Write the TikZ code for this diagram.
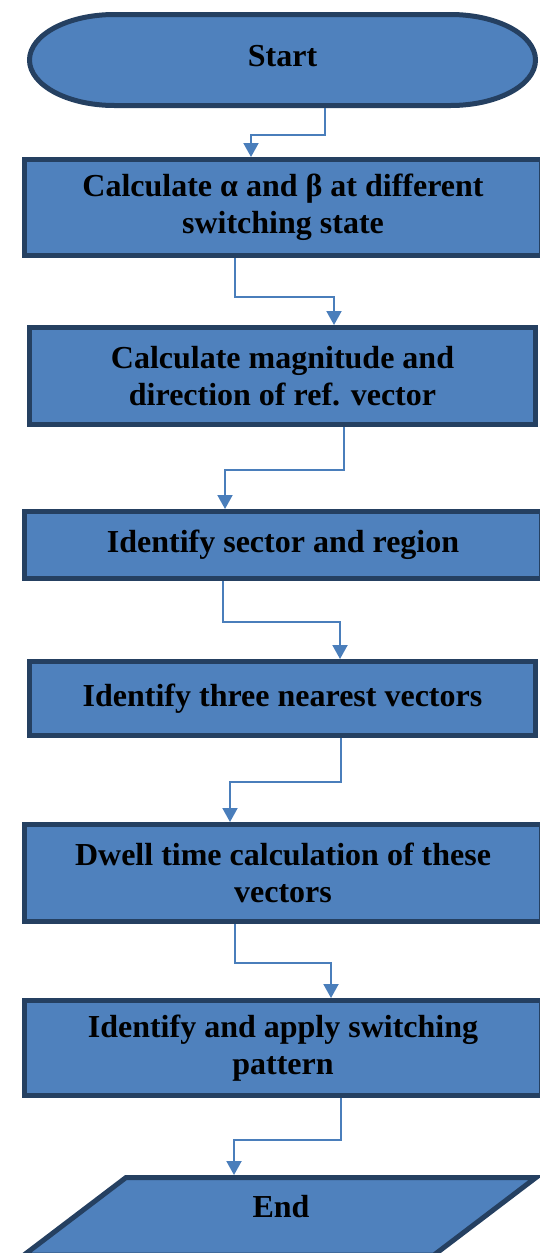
\documentclass[tikz,border=0pt]{standalone}
\usepackage{fontspec}
\setmainfont{Liberation Serif}
\usepackage{tikz}
\usetikzlibrary{shapes,arrows.meta,calc,positioning}

\definecolor{boxfill}{RGB}{79,129,189}
\definecolor{boxline}{RGB}{37,64,97}
\definecolor{flowline}{RGB}{74,126,187}

\begin{document}
\begin{tikzpicture}[x=0.5pt, y=-0.5pt,
      every node/.append style={font=\fontsize{16}{18.4}\selectfont\bfseries, align=center},
      block/.style={rectangle, draw=boxline, fill=boxfill, line width=2.5pt, inner sep=0pt, minimum height=#1},
      wide/.style={block=#1, minimum width=258.5pt},
      narrow/.style={block=#1, minimum width=253pt},
      frame/.style={rectangle, inner sep=0pt, outer sep=0pt},
      outline/.style={draw=boxline, fill=boxfill, line width=2.5pt},
      flow/.style={draw=flowline, line width=1pt, -{Triangle[width=7.5pt,length=7pt]}}]
    \useasboundingbox (0,0) rectangle (540,1253);

    % terminal shapes
    \node (start) [frame, minimum width=253pt, minimum height=45.5pt] at (282.5,60) {};
    \draw[outline]
      ([xshift=42.5pt]start.north west) -- ([xshift=-42.5pt]start.north east)
      arc[start angle=90, end angle=-90, x radius=42.5pt, y radius=22.75pt]
      -- ([xshift=42.5pt]start.south west)
      arc[start angle=270, end angle=90, x radius=42.5pt, y radius=22.75pt] -- cycle;
    \node (starttext) at ([yshift=2pt]start.center) {Start};
    \node (stop) [frame, minimum width=205pt, minimum height=38.75pt] at (331,1216.25) {};
    \draw[outline] (stop.north west) -- (stop.north east) -- ([xshift=-51pt]stop.south east)
      -- ([xshift=-51pt]stop.south west) -- cycle;
    \node (stoptext) at (281,1207) {End};

    % process boxes
    \node (angles) [wide=48pt] at (283,207.5) {Calculate α and β at different\\switching state};
    \node (refvec) [narrow=48.5pt] at (282.5,376) {Calculate magnitude and\\direction of ref. vector};
    \node (sector) [wide=33.5pt] at (283,545) {Identify sector and region};
    \node (nearest) [narrow=37pt] at (282.5,698.5) {Identify three nearest vectors};
    \node (dwell) [wide=48.5pt] at (283,873) {Dwell time calculation of these\\vectors};
    \node (pattern) [wide=47.5pt] at (283,1048) {Identify and apply switching\\pattern};

    \draw[flow] ([xshift=21.25pt,yshift=-1.25pt]start.south) -- ++(0,27) -| ([xshift=-16pt]angles.north);
    \draw[flow] ([xshift=-24pt]angles.south) -- ++(0,39) -| ([xshift=25.75pt]refvec.north);
    \draw[flow] ([xshift=30.75pt]refvec.south) -- ++(0,43) -| ([xshift=-29pt]sector.north);
    \draw[flow] ([xshift=-30pt]sector.south) -- ++(0,41) -| ([xshift=28.75pt]nearest.north);
    \draw[flow] ([xshift=29.25pt]nearest.south) -- ++(0,44) -| ([xshift=-26.5pt]dwell.north);
    \draw[flow] ([xshift=-24pt]dwell.south) -- ++(0,39) -| ([xshift=24pt]pattern.north);
    \draw[flow] ([xshift=29pt]pattern.south) -- ++(0,42) -| ([xshift=-48.5pt,yshift=1.25pt]stop.north);
  \end{tikzpicture}
\end{document}
